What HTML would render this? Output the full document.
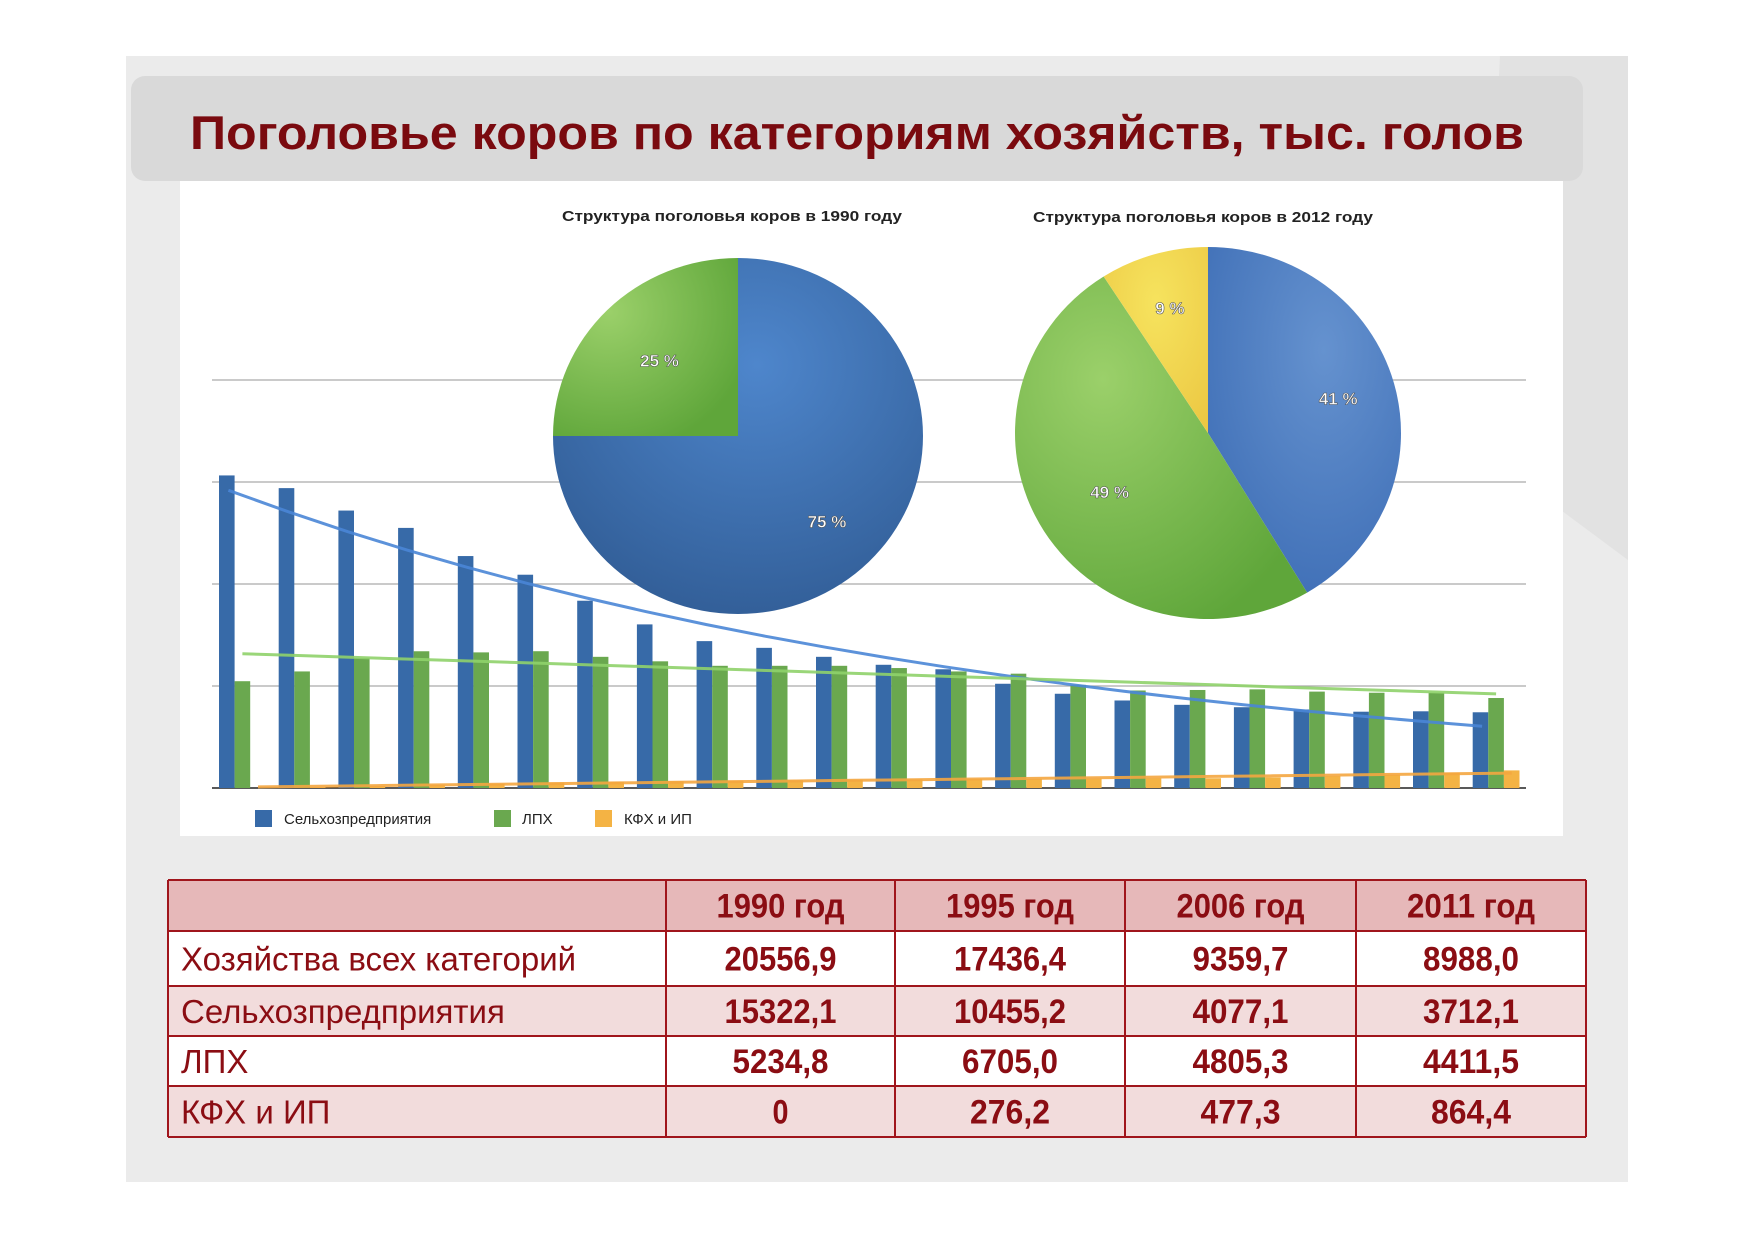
<!DOCTYPE html>
<html><head><meta charset="utf-8"><style>
html,body{margin:0;padding:0;background:#fff;}
svg{display:block;font-family:"Liberation Sans","DejaVu Sans",sans-serif;}
</style></head><body>
<svg id="root" width="1754" height="1240" viewBox="0 0 1754 1240" xmlns="http://www.w3.org/2000/svg">
<defs>
<radialGradient id="gBlue" cx="0.55" cy="0.3" r="0.8"><stop offset="0" stop-color="#4e86cc"/><stop offset="1" stop-color="#2f5a92"/></radialGradient>
<radialGradient id="gGreen" cx="0.3" cy="0.3" r="0.8"><stop offset="0" stop-color="#9bd06a"/><stop offset="1" stop-color="#5fa63a"/></radialGradient>
<radialGradient id="gBlue2" cx="0.6" cy="0.3" r="0.8"><stop offset="0" stop-color="#6592cf"/><stop offset="1" stop-color="#3d6db5"/></radialGradient>
<radialGradient id="gYellow" cx="0.5" cy="0.3" r="0.8"><stop offset="0" stop-color="#f6e35e"/><stop offset="1" stop-color="#ecc843"/></radialGradient>
</defs>
<rect x="126" y="56" width="1502" height="1126" fill="#ebebeb"/>
<polygon points="1500,56 1628,56 1628,560 1480,450" fill="#e2e2e2"/>
<rect x="131" y="76" width="1452" height="105" rx="14" fill="#d9d9d9"/>
<text x="190" y="149" font-size="47" font-weight="bold" fill="#7a0a0f" textLength="1334" lengthAdjust="spacingAndGlyphs">Поголовье коров по категориям хозяйств, тыс. голов</text>
<rect x="180" y="181" width="1383" height="655" fill="#ffffff"/>
<g id="grid"></g>
<g id="bars"></g>
<g id="trends"></g>
<g id="pies"></g>
<text x="732" y="221" font-size="14.5" font-weight="bold" text-anchor="middle" fill="#222" textLength="340" lengthAdjust="spacingAndGlyphs">Структура поголовья коров в 1990 году</text>
<text x="1203" y="222" font-size="14.5" font-weight="bold" text-anchor="middle" fill="#222" textLength="340" lengthAdjust="spacingAndGlyphs">Структура поголовья коров в 2012 году</text>
<g>
<rect x="255" y="810" width="17" height="17" fill="#376aa8"/>
<text x="284" y="824" font-size="15" fill="#222">Сельхозпредприятия</text>
<rect x="494" y="810" width="17" height="17" fill="#6aa84f"/>
<text x="522" y="824" font-size="15" fill="#222">ЛПХ</text>
<rect x="595" y="810" width="17" height="17" fill="#f4b344"/>
<text x="624" y="824" font-size="15" fill="#222">КФХ и ИП</text>
</g>
<g id="table"></g>
</svg>
<script>
const NS="http://www.w3.org/2000/svg";
const years=[1990,1991,1992,1993,1994,1995,1996,1997,1998,1999,2000,2001,2002,2003,2004,2005,2006,2007,2008,2009,2010,2011];
const agriValues=[15322,14700,13600,12750,11370,10455,9180,8020,7200,6870,6430,6040,5820,5110,4620,4290,4077,3960,3850,3740,3760,3712];
const lphValues=[5235,5714,6374,6703,6648,6705,6430,6210,5990,5990,5990,5880,5714,5604,5055,4780,4805,4835,4725,4670,4670,4411];
const kfhValues=[0,50,100,150,200,276,300,330,360,380,400,420,440,450,460,470,477,520,580,650,750,864];
const gridTicks=[0,5000,10000,15000,20000];
const pie1990Values=[75,25];
const pie1990Labels=["75 %","25 %"];
const pie2012Values=[41,49,9];
const pie2012Labels=["41 %","49 %","9 %"];
const tableHeader=["","1990 год","1995 год","2006 год","2011 год"];
const tableRows=[["Хозяйства всех категорий","20556,9","17436,4","9359,7","8988,0"],["Сельхозпредприятия","15322,1","10455,2","4077,1","3712,1"],["ЛПХ","5234,8","6705,0","4805,3","4411,5"],["КФХ и ИП","0","276,2","477,3","864,4"]];

const base=788, unitPx=102/5000;
function y(v){return base-v*unitPx;}
function gx(i){return 219+i*59.7;}
const bw=15.6;
function mk(tag,attrs,parent){const e=document.createElementNS(NS,tag);for(const k in attrs)e.setAttribute(k,attrs[k]);parent.appendChild(e);return e;}

const grid=document.getElementById('grid');
gridTicks.forEach(t=>{
  const l=mk('line',{x1:212,x2:1526,y1:y(t),y2:y(t),stroke:t===0?'#222':'#aaa','stroke-width':t===0?1.5:1.2},grid);
  
  
});

const bars=document.getElementById('bars');
years.forEach((yr,i)=>{
  const b=mk('rect',{x:gx(i),y:y(agriValues[i]),width:bw,height:base-y(agriValues[i]),fill:'#376aa8'},bars);
  
  
  const g=mk('rect',{x:gx(i)+bw,y:y(lphValues[i]),width:bw,height:base-y(lphValues[i]),fill:'#6aa84f'},bars);
  
  
  const o=mk('rect',{x:gx(i)+2*bw,y:y(kfhValues[i]),width:bw,height:base-y(kfhValues[i]),fill:'#f4b344'},bars);
  
  
});

function linFit(xs,ys){const n=xs.length;let sx=0,sy=0,sxx=0,sxy=0;for(let i=0;i<n;i++){sx+=xs[i];sy+=ys[i];sxx+=xs[i]*xs[i];sxy+=xs[i]*ys[i];}const b=(n*sxy-sx*sy)/(n*sxx-sx*sx);return [(sy-b*sx)/n,b];}
const idx=years.map((_,i)=>i);
const trends=document.getElementById('trends');
function trendPath(fn,off,color,name){
  let d='';idx.forEach(i=>{d+=(i?'L':'M')+(gx(i)+off).toFixed(1)+','+y(fn(i)).toFixed(1);});
  const p=mk('path',{d:d,fill:'none',stroke:color,'stroke-width':3,opacity:0.9},trends);
  
  
}
const [ea,eb]=linFit(idx,agriValues.map(v=>Math.log(v)));
trendPath(i=>Math.exp(ea+eb*i),bw*0.6,'#4a86d6','trend-agri');
const [la,lb]=linFit(idx,lphValues);
trendPath(i=>la+lb*i,bw*1.5,'#8fd26a','trend-lph');
const [oa,ob]=linFit(idx,kfhValues);
trendPath(i=>Math.max(0,oa+ob*i),bw*2.5,'#f4a640','trend-kfh');

const pies=document.getElementById('pies');
function pie(cx,cy,rx,ry,vals,fills,labels,names,labelPos){
  const tot=vals.reduce((a,b)=>a+b,0);let a0=0;
  vals.forEach((v,k)=>{
    const a1=a0+v/tot*2*Math.PI;
    const p0=[cx+rx*Math.sin(a0),cy-ry*Math.cos(a0)],p1=[cx+rx*Math.sin(a1),cy-ry*Math.cos(a1)];
    const large=(a1-a0)>Math.PI?1:0;
    const p=mk('path',{d:`M${cx},${cy}L${p0[0]},${p0[1]}A${rx},${ry} 0 ${large} 1 ${p1[0]},${p1[1]}Z`,fill:fills[k]},pies);
    
    
    const am=(a0+a1)/2,f=labelPos[k];
    const t=mk('text',{x:cx+rx*f*Math.sin(am),y:cy-ry*f*Math.cos(am)+6,'font-size':17,'font-weight':'bold',fill:'#fff','text-anchor':'middle',stroke:'#555','stroke-width':0.6},pies);
    t.textContent=labels[k];
    
    
    a0=a1;
  });
}
pie(738,436,185,178,pie1990Values,['url(#gBlue)','url(#gGreen)'],pie1990Labels,['pie-1990-agri','pie-1990-lph'],[0.68,0.6]);
pie(1208,433,193,186,pie2012Values,['url(#gBlue2)','url(#gGreen)','url(#gYellow)'],pie2012Labels,['pie-2012-agri','pie-2012-lph','pie-2012-kfh'],[0.7,0.6,0.7]);

const tbl=document.getElementById('table');
const colX=[168,666,895,1125,1356,1586], rowY=[880,931,986,1036,1086,1137];
const rowFill=['#e6b8b9','#ffffff','#f2dcdc','#ffffff','#f2dcdc'];
for(let r=0;r<5;r++){
  const bg=mk('rect',{x:168,y:rowY[r],width:1418,height:rowY[r+1]-rowY[r],fill:rowFill[r]},tbl);
  
  
  const cells=r===0?tableHeader:tableRows[r-1];
  cells.forEach((c,k)=>{
    const cy=(rowY[r]+rowY[r+1])/2+12;
    const attrs={x:k===0?181:(colX[k]+colX[k+1])/2,y:cy,'font-size':k===0?33:34,'font-weight':k===0?'normal':'bold',fill:'#8b0d13','text-anchor':k===0?'start':'middle'};
    const t=mk('text',attrs,tbl);
    t.textContent=c;
    if(k>0){t.setAttribute('textLength',(c.length*16).toString());t.setAttribute('lengthAdjust','spacingAndGlyphs');}
    
    
  });
}
rowY.forEach(yy=>{const l=mk('line',{x1:168,x2:1586,y1:yy,y2:yy,stroke:'#a0151c','stroke-width':2},tbl);});
colX.forEach(xx=>{const l=mk('line',{x1:xx,x2:xx,y1:880,y2:1137,stroke:'#a0151c','stroke-width':2},tbl);});
</script>
</body></html>
